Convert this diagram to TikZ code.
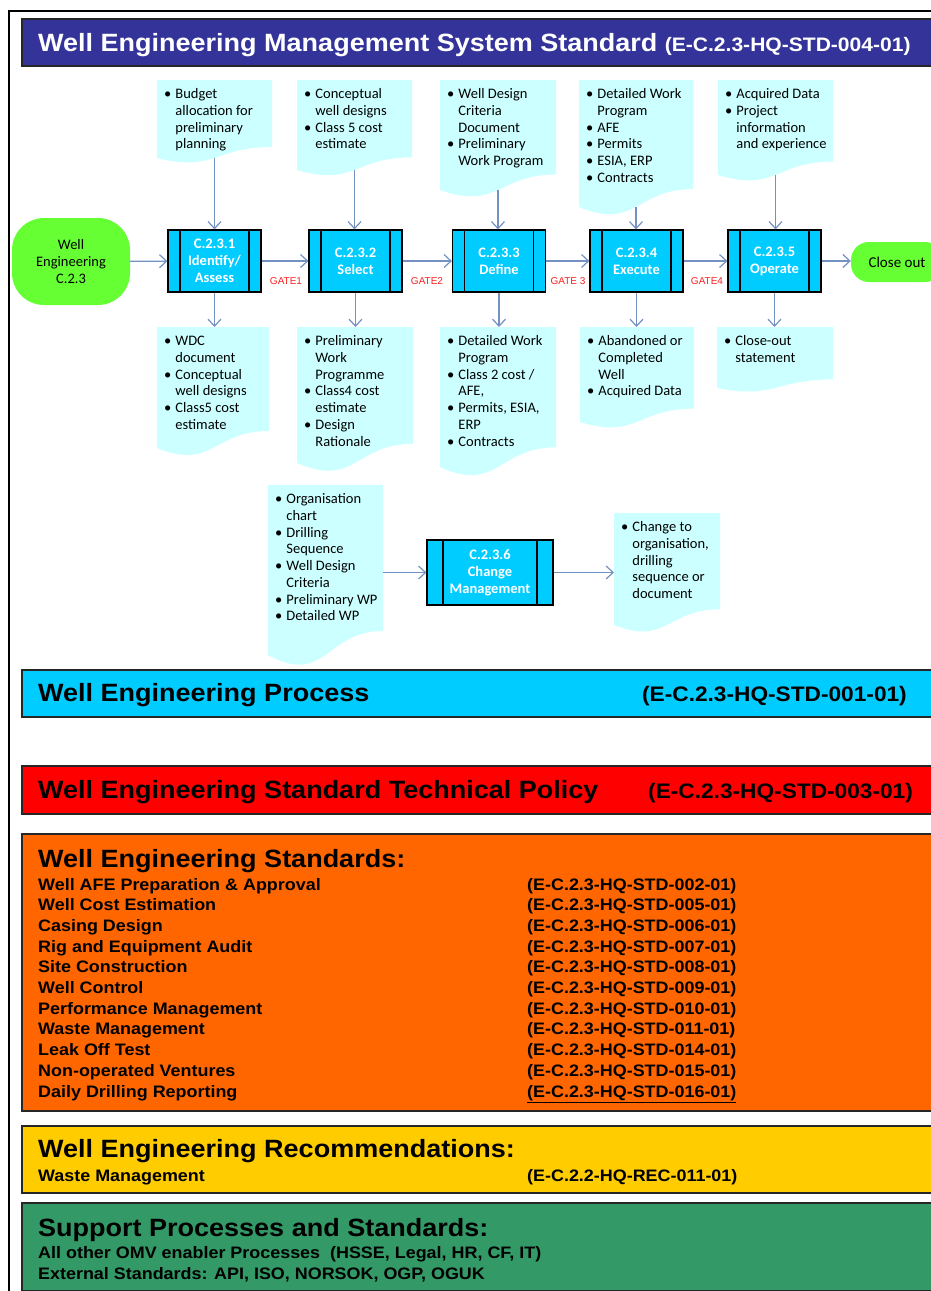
\documentclass[tikz,border=0pt]{standalone}
\usepackage{fontspec}
\setmainfont{Carlito}
\newfontfamily\arialx[FakeStretch=1.08]{Liberation Sans}
\newfontfamily\gatefnt{Liberation Sans}
\usetikzlibrary{arrows.meta}

\definecolor{navyband}{HTML}{333399}
\definecolor{procband}{HTML}{00CCFF}
\definecolor{policyband}{HTML}{FF0000}
\definecolor{stdband}{HTML}{FF6600}
\definecolor{recband}{HTML}{FFCC00}
\definecolor{supband}{HTML}{339966}
\definecolor{docfill}{HTML}{CCFFFF}
\definecolor{termfill}{HTML}{66FF33}
\definecolor{flowc}{RGB}{115,145,195}
\definecolor{gatec}{HTML}{FF2020}

% document symbol: name, left x, top y, width, height, bullet text
\newcommand\docshape[6]{%
  \fill[docfill] (#2,#3) -- ({#2+#4},#3) -- ({#2+#4},{#3+0.802*#5})
    .. controls ({#2+0.5*#4},{#3+0.802*#5}) and ({#2+0.5*#4},{#3+1.107*#5}) .. (#2,{#3+0.934*#5}) -- cycle;
  \node[doctext, anchor=north west] (#1) at ({#2+7},{#3+7})
    {\begin{tabular}{@{}l@{\hspace{4pt}}l@{}}#6\end{tabular}};
  \coordinate (#1-top) at ({#2+0.5*#4},#3);
  \coordinate (#1-bot) at ({#2+0.5*#4},{#3+0.933*#5});
  \coordinate (#1-west) at (#2,#3);
  \coordinate (#1-east) at ({#2+#4},#3);
}
% one line of a standards list: name, baseline, title, document code
\newcommand\strow[4]{%
  \node[rowtxt, anchor=base west] (#1n) at (38,#2) {#3};
  \node[rowtxt, anchor=base west] (#1c) at (527,#2) {#4};
}

\begin{document}
\begin{tikzpicture}[x=1pt,y=-1pt,
  arr/.style={draw=flowc, line width=1.2pt, -{Straight Barb[length=7pt,width=13pt]}},
  proc/.style={draw=black, line width=1.2pt, fill=procband, text=white, inner sep=0pt,
    align=center, font=\fontsize{14.5}{16.8}\selectfont\bfseries,
    path picture={\draw[line width=1.2pt]
      ([xshift=#1]path picture bounding box.north west) -- ([xshift=#1]path picture bounding box.south west)
      ([xshift=-#1]path picture bounding box.north east) -- ([xshift=-#1]path picture bounding box.south east);}},
  proc/.default=12pt,
  term/.style={fill=termfill, inner sep=0pt, align=center, font=\fontsize{14.5}{16.7}\selectfont},
  doctext/.style={inner sep=0pt, align=left, font=\fontsize{14.5}{16.7}\selectfont},
  gate/.style={text=gatec, inner sep=0pt, font=\gatefnt\fontsize{10}{12}\selectfont},
  bandbox/.style={draw=black!85, line width=1.5pt, inner sep=0pt, anchor=north west, minimum width=929pt},
  bandtitle/.style={inner sep=0pt, anchor=base west, font=\arialx\bfseries\fontsize{25}{30}\selectfont},
  bandcode/.style={inner sep=0pt, font=\arialx\bfseries\fontsize{21}{25}\selectfont},
  rowtxt/.style={inner sep=0pt, font=\arialx\bfseries\fontsize{16.6}{20}\selectfont}]

\useasboundingbox (0,0) rectangle (931,1291);
\fill[white] (0,0) rectangle (931,1291);

% outer frame
\draw[line width=1.2pt] (9,1300) -- (9,11) -- (945,11);

% header
\node[bandbox, fill=navyband, minimum height=47pt] (hdrband) at (21,18) {};
\node[bandtitle, text=white] (hdrtitle) at (38,51)
  {Well Engineering Management System Standard {\fontsize{19.5}{22}\selectfont(E-C.2.3-HQ-STD-004-01)}};

% input documents
\docshape{t1}{157}{80}{115}{83.5}{\textbullet & Budget\\ & allocation for\\ & preliminary\\ & planning}
\docshape{t2}{297}{80}{115}{96.4}{\textbullet & Conceptual\\ & well designs\\ \textbullet & Class 5 cost\\ & estimate}
\docshape{t3}{440}{80}{116}{117.8}{\textbullet & Well Design\\ & Criteria\\ & Document\\ \textbullet & Preliminary\\ & Work Program}
\docshape{t4}{579}{80}{114}{136}{\textbullet & Detailed Work\\ & Program\\ \textbullet & AFE\\ \textbullet & Permits\\ \textbullet & ESIA, ERP\\ \textbullet & Contracts}
\docshape{t5}{718}{80}{115}{101.7}{\textbullet & Acquired Data\\ \textbullet & Project\\ & information\\ & and experience}

% output documents
\docshape{b1}{157}{327}{112}{129.6}{\textbullet & WDC\\ & document\\ \textbullet & Conceptual\\ & well designs\\ \textbullet & Class5 cost\\ & estimate}
\docshape{b2}{297}{327}{116}{145.6}{\textbullet & Preliminary\\ & Work\\ & Programme\\ \textbullet & Class4 cost\\ & estimate\\ \textbullet & Design\\ & Rationale}
\docshape{b3}{440}{327}{116}{150}{\textbullet & Detailed Work\\ & Program\\ \textbullet & Class 2 cost /\\ & AFE,\\ \textbullet & Permits, ESIA,\\ & ERP\\ \textbullet & Contracts}
\docshape{b4}{580}{327}{114}{101.7}{\textbullet & Abandoned or\\ & Completed\\ & Well\\ \textbullet & Acquired Data}
\docshape{b5}{717}{327}{116}{65.3}{\textbullet & Close-out\\ & statement}

% change management documents
\docshape{cl}{268}{485}{115}{182}{\textbullet & Organisation\\ & chart\\ \textbullet & Drilling\\ & Sequence\\ \textbullet & Well Design\\ & Criteria\\ \textbullet & Preliminary WP\\ \textbullet & Detailed WP}
\docshape{cr}{614}{513}{106}{120}{\textbullet & Change to\\ & organisation,\\ & drilling\\ & sequence or\\ & document}

% process chain
\node[term, minimum width=118pt, minimum height=87pt, rounded corners=32pt] (start) at (71,261.5) {Well\\Engineering\\C.2.3};
\node[proc, minimum width=93pt, minimum height=62pt] (p1) at (214.5,261) {C.2.3.1\\Identify/\\Assess};
\node[proc, minimum width=93pt, minimum height=62pt] (p2) at (355.5,261) {C.2.3.2\\Select};
\node[proc, minimum width=93pt, minimum height=62pt] (p3) at (499,261) {C.2.3.3\\Define};
\node[proc, minimum width=93pt, minimum height=62pt] (p4) at (636.5,261) {C.2.3.4\\Execute};
\node[proc, minimum width=93pt, minimum height=62pt] (p5) at (774.5,261) {C.2.3.5\\Operate};
\node[term, minimum width=92pt, minimum height=40pt, rounded corners=18pt, font=\fontsize{15}{18}\selectfont] (close) at (897,262) {Close out};
\node[proc=16pt, minimum width=126pt, minimum height=65pt] (cm) at (490,572.5) {C.2.3.6\\Change\\Management};

\node[gate] (g1) at (286,281) {GATE1};
\node[gate] (g2) at (427,281) {GATE2};
\node[gate] (g3) at (568,281) {GATE 3};
\node[gate] (g4) at (707,281) {GATE4};

% connectors
\draw[arr] (start) -- (p1);
\draw[arr] (p1) -- (p2);
\draw[arr] (p2) -- (p3);
\draw[arr] (p3) -- (p4);
\draw[arr] (p4) -- (p5);
\draw[arr] (p5.east) -- (p5.east -| close.west);
\foreach \d/\p in {t1/p1,t2/p2,t3/p3,t4/p4,t5/p5}
  \draw[arr] (\d-bot) -- (\d-bot |- \p.north);
\foreach \d/\p in {b1/p1,b2/p2,b3/p3,b4/p4,b5/p5}
  \draw[arr] (\p.south) -- (\p.south |- \d-top);
\draw[arr] (cl-east |- cm.west) -- (cm.west);
\draw[arr] (cm.east) -- (cm.east -| cr-west);

% process band
\node[bandbox, fill=procband, minimum height=47pt] (procb) at (21,669) {};
\node[bandtitle] (proct) at (38,701.5) {Well Engineering Process};
\node[bandcode, anchor=base east] (procc) at (907,701.5) {(E-C.2.3-HQ-STD-001-01)};

% technical policy band
\node[bandbox, fill=policyband, minimum height=48pt] (polb) at (21,765) {};
\node[bandtitle] (polt) at (38,798.5) {Well Engineering Standard Technical Policy};
\node[bandcode, anchor=base west] (polc) at (648,798.5) {(E-C.2.3-HQ-STD-003-01)};

% standards band
\node[bandbox, fill=stdband, minimum height=277pt] (stdb) at (21,833) {};
\node[bandtitle] (stdt) at (38,867) {Well Engineering Standards:};
\strow{s1}{890}{Well AFE Preparation \& Approval}{(E-C.2.3-HQ-STD-002-01)}
\strow{s2}{910.7}{Well Cost Estimation}{(E-C.2.3-HQ-STD-005-01)}
\strow{s3}{931.4}{Casing Design}{(E-C.2.3-HQ-STD-006-01)}
\strow{s4}{952.1}{Rig and Equipment Audit}{(E-C.2.3-HQ-STD-007-01)}
\strow{s5}{972.8}{Site Construction}{(E-C.2.3-HQ-STD-008-01)}
\strow{s6}{993.5}{Well Control}{(E-C.2.3-HQ-STD-009-01)}
\strow{s7}{1014.2}{Performance Management}{(E-C.2.3-HQ-STD-010-01)}
\strow{s8}{1034.9}{Waste Management}{(E-C.2.3-HQ-STD-011-01)}
\strow{s9}{1055.6}{Leak Off Test}{(E-C.2.3-HQ-STD-014-01)}
\strow{s10}{1076.3}{Non-operated Ventures}{(E-C.2.3-HQ-STD-015-01)}
\strow{s11}{1097}{Daily Drilling Reporting}{\underline{(E-C.2.3-HQ-STD-016-01)}}

% recommendations band
\node[bandbox, fill=recband, minimum height=67pt] (recb) at (21,1125) {};
\node[bandtitle] (rect) at (38,1157) {Well Engineering Recommendations:};
\strow{r1}{1181}{Waste Management}{(E-C.2.2-HQ-REC-011-01)}

% support band
\node[bandbox, fill=supband, minimum height=88pt] (supb) at (21,1202) {};
\node[bandtitle] (supt) at (38,1236) {Support Processes and Standards:};
\node[rowtxt, anchor=base west] (sup1) at (38,1258) {All other OMV enabler Processes\ \ (HSSE, Legal, HR, CF, IT)};
\node[rowtxt, anchor=base west] (sup2) at (38,1279) {External Standards: API, ISO, NORSOK, OGP, OGUK};
\end{tikzpicture}
\end{document}
